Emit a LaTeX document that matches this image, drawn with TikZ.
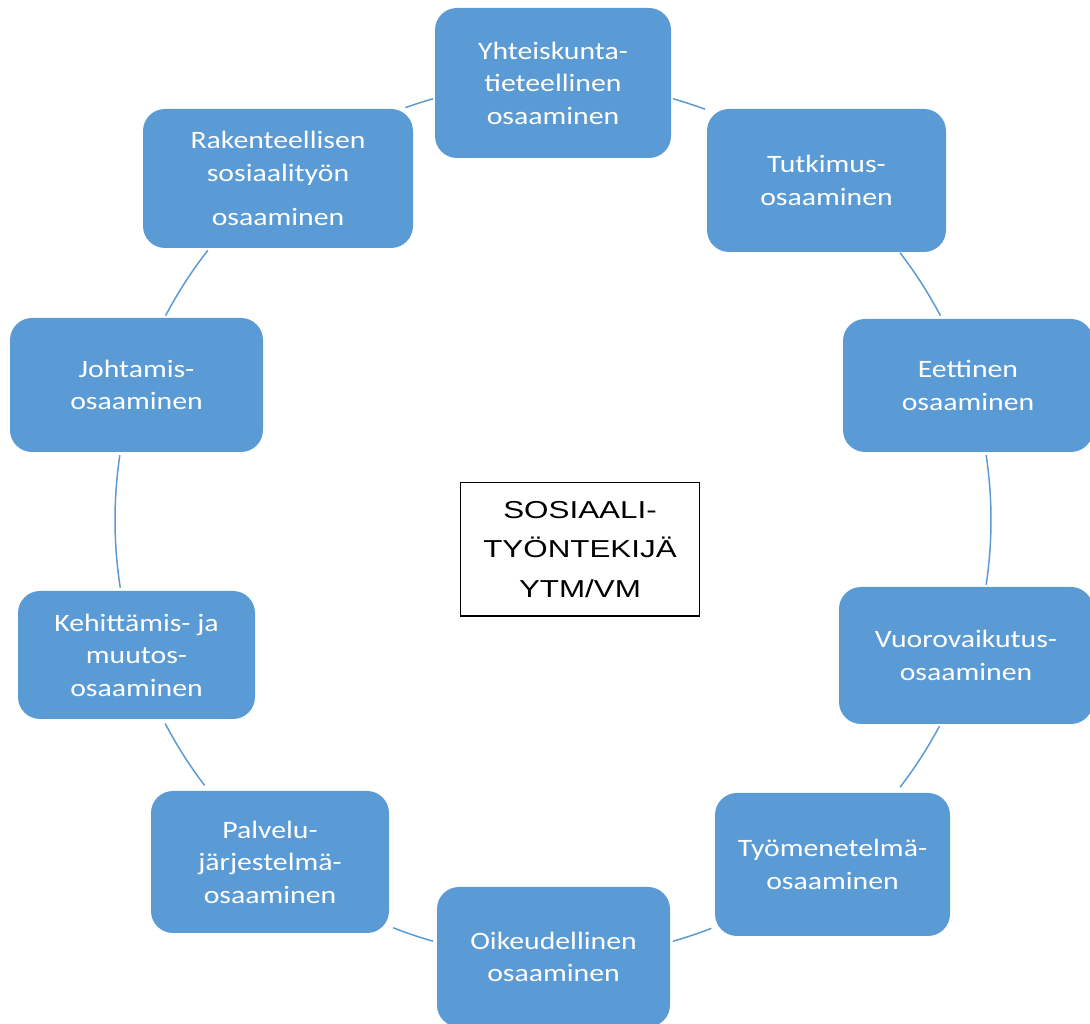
\documentclass[tikz,border=0pt]{standalone}
\usepackage{fontspec}
\setmainfont{Carlito}[FakeStretch=1.19]
\newfontfamily\arialfont{Liberation Sans}[FakeStretch=1.28]
\definecolor{boxblue}{HTML}{5B9BD5}
\begin{document}
\begin{tikzpicture}[x=1pt,y=1pt,
  comp/.style={fill=boxblue, draw=none, rounded corners=22pt, text=white,
    align=center, inner sep=0pt, font=\fontsize{25}{32.5}\selectfont},
  link/.style={draw=boxblue, line width=1.5pt},
  core/.style={draw=black, line width=1.2pt, fill=white, align=center,
    inner sep=0pt, minimum width=238.6pt, minimum height=133.3pt,
    font=\arialfont\fontsize{24.5}{39.5}\selectfont}]
\useasboundingbox (0,0) rectangle (1090,1024);
\clip (0,0) rectangle (1090,1024);
\coordinate (ctr) at (553,504);

% arcs of the ring (drawn first, they sit between boxes)
\draw[link] ([shift={(109.7:438)}]ctr) arc[start angle=109.7, end angle=105.9, radius=438]; % rak -> yht
\draw[link] ([shift={(74.1:438)}]ctr) arc[start angle=74.1, end angle=69.7, radius=438];    % yht -> tut
\draw[link] ([shift={(37.6:438)}]ctr) arc[start angle=37.6, end angle=27.8, radius=438];    % tut -> eet
\draw[link] ([shift={(8.5:438)}]ctr) arc[start angle=8.5, end angle=-8.5, radius=438];      % eet -> vuo
\draw[link] ([shift={(-28.1:438)}]ctr) arc[start angle=-28.1, end angle=-37.6, radius=438]; % vuo -> tyo
\draw[link] ([shift={(-68.8:438)}]ctr) arc[start angle=-68.8, end angle=-74.1, radius=438]; % tyo -> oik
\draw[link] ([shift={(-105.9:438)}]ctr) arc[start angle=-105.9, end angle=-111.4, radius=438]; % oik -> pal
\draw[link] ([shift={(-142.7:438)}]ctr) arc[start angle=-142.7, end angle=-152.3, radius=438]; % pal -> keh
\draw[link] ([shift={(188.9:438)}]ctr) arc[start angle=188.9, end angle=171.5, radius=438];  % keh -> joh
\draw[link] ([shift={(152.2:438)}]ctr) arc[start angle=152.2, end angle=142.0, radius=438];  % joh -> rak

% competence boxes
\node[comp, minimum width=236pt, minimum height=150pt] (yht) at (553,941)
  {Yhteiskunta-\\tieteellinen\\osaaminen};
\node[comp, minimum width=239pt, minimum height=143pt] (tut) at (826.5,843.5)
  {Tutkimus-\\osaaminen};
\node[comp, minimum width=250pt, minimum height=133pt] (eet) at (968,638.5)
  {Eettinen\\osaaminen};
\node[comp, minimum width=254pt, minimum height=137pt] (vuo) at (966,368.5)
  {Vuorovaikutus-\\osaaminen};
\node[comp, minimum width=235pt, minimum height=143pt] (tyo) at (832.5,159.5)
  {Työmenetelmä-\\osaaminen};
\node[comp, minimum width=233pt, minimum height=140pt] (oik) at (553.5,67)
  {Oikeudellinen\\osaaminen};
\node[comp, minimum width=238pt, minimum height=142pt] (pal) at (270,162)
  {Palvelu-\\järjestelmä-\\osaaminen};
\node[comp, minimum width=237pt, minimum height=128pt] (keh) at (136.5,369)
  {Kehittämis- ja\\muutos-\\osaaminen};
\node[comp, minimum width=253pt, minimum height=134pt] (joh) at (136.5,639)
  {Johtamis-\\osaaminen};
\node[comp, minimum width=270pt, minimum height=139pt] (rak) at (278,845.5)
  {Rakenteellisen\\sosiaalityön\\[12pt]osaaminen};

% centre
\node[core] (sos) at (580,474.7) {SOSIAALI-\\TYÖNTEKIJÄ\\YTM/VM};
\end{tikzpicture}
\end{document}
